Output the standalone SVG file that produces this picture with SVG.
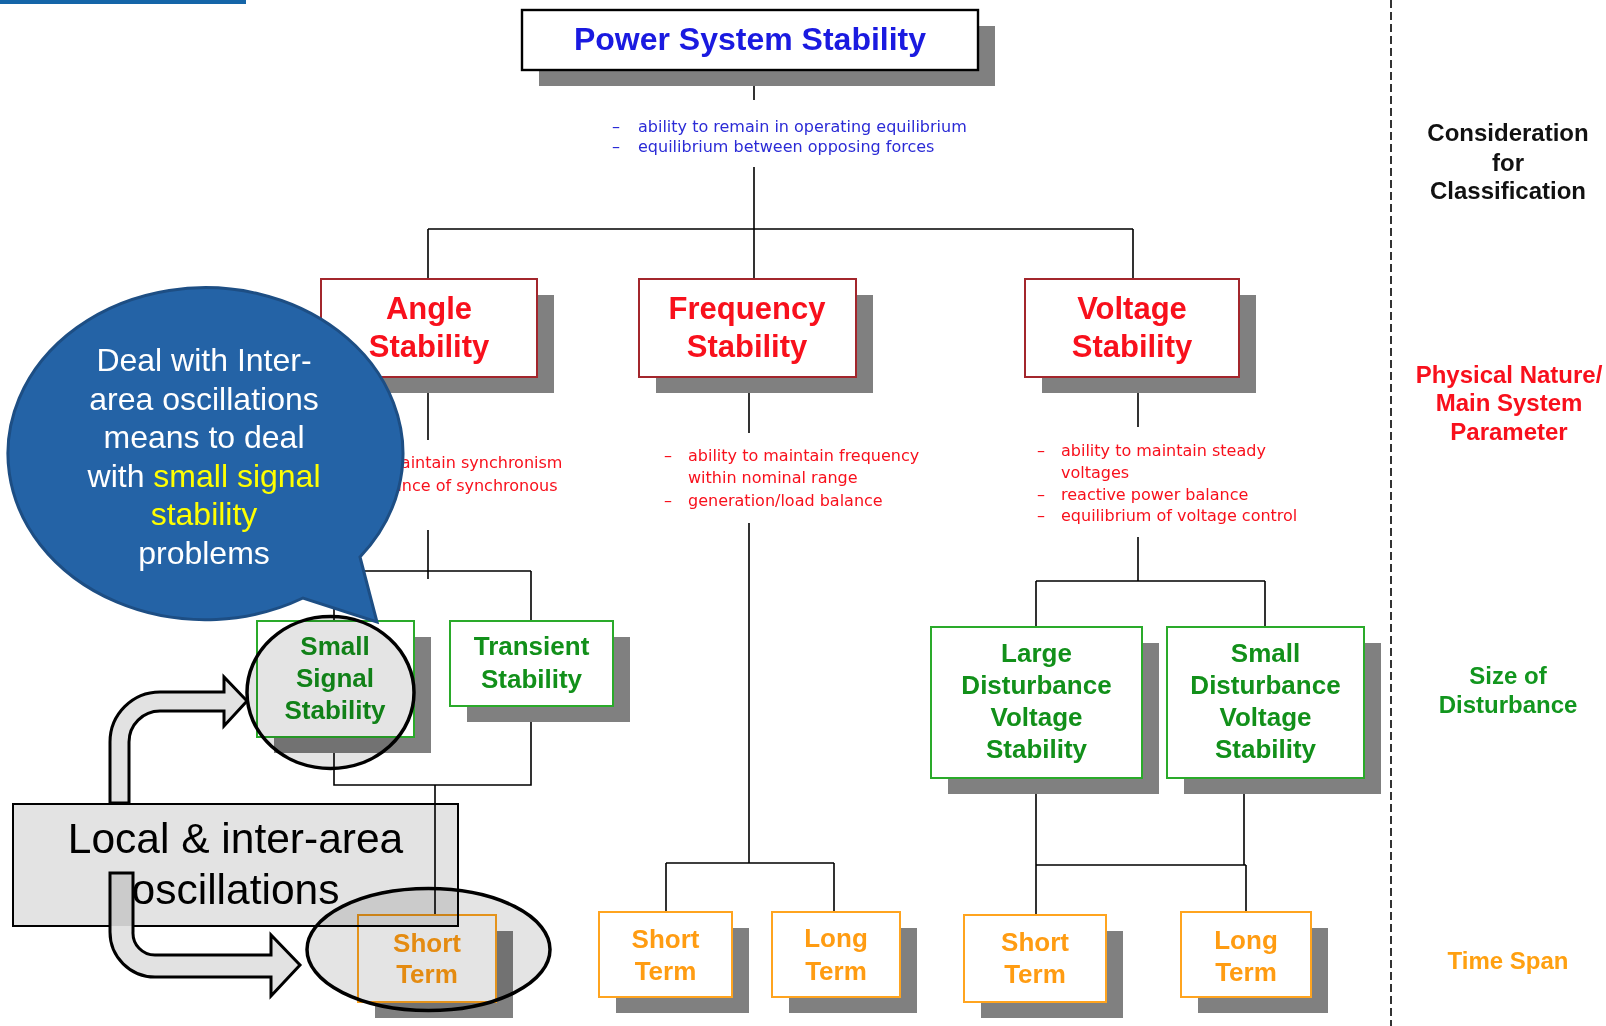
<svg xmlns="http://www.w3.org/2000/svg" width="1606" height="1026" viewBox="0 0 1606 1026">
<style>
.sh{fill:#808080}
.bx{fill:#fff;stroke-width:2}
.k{stroke:#000;stroke-width:2.4}
.r{stroke:#a3262c}
.g{stroke:#2aaa2a}
.o{stroke:#ffa41f}
.t{font-family:"Liberation Sans",Arial,sans-serif;font-weight:bold;text-anchor:middle}
.s{font-family:"DejaVu Sans",Verdana,sans-serif;font-size:16px}
.red{fill:#f8101c}
.grn{fill:#12901a}
.org{fill:#ff9c12}
.ln{stroke:#000;stroke-width:1.6;fill:none}
.hl{fill:#e4e4e4;mix-blend-mode:multiply;stroke:#000;stroke-width:3.5}
.ar{fill:#e2e2e2;stroke:none}
.ao{fill:none;stroke:#000;stroke-width:3}
</style>
<defs>
  <clipPath id="in-note"><rect x="13" y="804" width="445" height="122"/></clipPath>
  <path id="arrow-up" d="M110,803 L110,742 A50,50 0 0 1 160,692 L224,692 L224,677 L247,701 L224,726 L224,711 L160,711 A31,31 0 0 0 129,742 L129,803 Z"/>
  <path id="arrow-down" d="M110,873 L133,873 L133,932 A22,22 0 0 0 155,955 L271,955 L271,935 L300,965 L271,996 L271,977 L155,977 A45,45 0 0 1 110,932 Z"/>
</defs>

<!-- header strip -->
<rect x="0" y="0" width="246" height="4" fill="#1565a8"/>

<!-- tree connectors -->
<g id="connectors" class="ln">
  <path d="M754,70 V100 M754,167 V279 M428,229 H1133 M428,229 V279 M1133,229 V279"/>
  <path d="M428,377 V440 M428,530 V579 M334,571 H531 M334,571 V621 M531,571 V621"/>
  <path d="M334,737 V785 H531 V706 M435,785 V915"/>
  <path d="M749,377 V433 M749,523 V863 M666,863 H834 M666,863 V912 M834,863 V912"/>
  <path d="M1138,377 V427 M1138,537 V581 M1036,581 H1265 M1036,581 V627 M1265,581 V627"/>
  <path d="M1036,778 V915 M1244,778 V865 M1036,865 H1246 M1246,865 V912"/>
</g>

<!-- category column separator -->
<line x1="1391" y1="0" x2="1391" y2="1026" stroke="#333" stroke-width="2" stroke-dasharray="8,4"/>

<g id="power-system-stability">
  <rect class="sh" x="539" y="26" width="456" height="60"/>
  <rect class="bx k" x="522" y="10" width="456" height="60"/>
  <text class="t" x="750" y="50" font-size="32" fill="#1a1ae0">Power System Stability</text>
</g>
<g id="pss-notes" class="s" fill="#2b2bd6">
  <text x="612" y="132">–</text><text x="638" y="132">ability to remain in operating equilibrium</text>
  <text x="612" y="152">–</text><text x="638" y="152">equilibrium between opposing forces</text>
</g>

<g id="angle-stability">
  <rect class="sh" x="338" y="295" width="216" height="98"/>
  <rect class="bx r" x="321" y="279" width="216" height="98"/>
  <text class="t red" x="429" y="319" font-size="31">Angle</text>
  <text class="t red" x="429" y="357" font-size="31">Stability</text>
</g>
<g id="angle-notes" class="s red">
  <text x="310" y="468">ability to maintain synchronism</text>
  <text x="310" y="491">torque balance of synchronous</text>
  <text x="310" y="513">machines</text>
</g>

<g id="frequency-stability">
  <rect class="sh" x="656" y="295" width="217" height="98"/>
  <rect class="bx r" x="639" y="279" width="217" height="98"/>
  <text class="t red" x="747" y="319" font-size="31">Frequency</text>
  <text class="t red" x="747" y="357" font-size="31">Stability</text>
</g>
<g id="frequency-notes" class="s red">
  <text x="664" y="461">–</text><text x="688" y="461">ability to maintain frequency</text>
  <text x="688" y="483">within nominal range</text>
  <text x="664" y="506">–</text><text x="688" y="506">generation/load balance</text>
</g>

<g id="voltage-stability">
  <rect class="sh" x="1042" y="295" width="214" height="98"/>
  <rect class="bx r" x="1025" y="279" width="214" height="98"/>
  <text class="t red" x="1132" y="319" font-size="31">Voltage</text>
  <text class="t red" x="1132" y="357" font-size="31">Stability</text>
</g>
<g id="voltage-notes" class="s red">
  <text x="1037" y="456">–</text><text x="1061" y="456">ability to maintain steady</text>
  <text x="1061" y="478">voltages</text>
  <text x="1037" y="500">–</text><text x="1061" y="500">reactive power balance</text>
  <text x="1037" y="521">–</text><text x="1061" y="521">equilibrium of voltage control</text>
</g>

<g id="small-signal-stability">
  <rect class="sh" x="274" y="637" width="157" height="116"/>
  <rect class="bx g" x="257" y="621" width="157" height="116"/>
  <text class="t grn" x="335" y="655" font-size="26">Small</text>
  <text class="t grn" x="335" y="687" font-size="26">Signal</text>
  <text class="t grn" x="335" y="719" font-size="26">Stability</text>
</g>

<g id="transient-stability">
  <rect class="sh" x="467" y="637" width="163" height="85"/>
  <rect class="bx g" x="450" y="621" width="163" height="85"/>
  <text class="t grn" x="531.5" y="655" font-size="26">Transient</text>
  <text class="t grn" x="531.5" y="688" font-size="26">Stability</text>
</g>

<g id="large-disturbance-voltage-stability">
  <rect class="sh" x="948" y="643" width="211" height="151"/>
  <rect class="bx g" x="931" y="627" width="211" height="151"/>
  <text class="t grn" x="1036.5" y="662" font-size="26">Large</text>
  <text class="t grn" x="1036.5" y="694" font-size="26">Disturbance</text>
  <text class="t grn" x="1036.5" y="726" font-size="26">Voltage</text>
  <text class="t grn" x="1036.5" y="758" font-size="26">Stability</text>
</g>

<g id="small-disturbance-voltage-stability">
  <rect class="sh" x="1184" y="643" width="197" height="151"/>
  <rect class="bx g" x="1167" y="627" width="197" height="151"/>
  <text class="t grn" x="1265.5" y="662" font-size="26">Small</text>
  <text class="t grn" x="1265.5" y="694" font-size="26">Disturbance</text>
  <text class="t grn" x="1265.5" y="726" font-size="26">Voltage</text>
  <text class="t grn" x="1265.5" y="758" font-size="26">Stability</text>
</g>

<g id="angle-short-term">
  <rect class="sh" x="375" y="931" width="138" height="87"/>
  <rect class="bx o" x="358" y="915" width="138" height="87"/>
  <text class="t org" x="427" y="952" font-size="26">Short</text>
  <text class="t org" x="427" y="983" font-size="26">Term</text>
</g>

<g id="frequency-short-term">
  <rect class="sh" x="616" y="928" width="133" height="85"/>
  <rect class="bx o" x="599" y="912" width="133" height="85"/>
  <text class="t org" x="665.5" y="948" font-size="26">Short</text>
  <text class="t org" x="665.5" y="980" font-size="26">Term</text>
</g>

<g id="frequency-long-term">
  <rect class="sh" x="789" y="928" width="128" height="85"/>
  <rect class="bx o" x="772" y="912" width="128" height="85"/>
  <text class="t org" x="836" y="947" font-size="26">Long</text>
  <text class="t org" x="836" y="980" font-size="26">Term</text>
</g>

<g id="voltage-short-term">
  <rect class="sh" x="981" y="931" width="142" height="87"/>
  <rect class="bx o" x="964" y="915" width="142" height="87"/>
  <text class="t org" x="1035" y="951" font-size="26">Short</text>
  <text class="t org" x="1035" y="983" font-size="26">Term</text>
</g>

<g id="voltage-long-term">
  <rect class="sh" x="1198" y="928" width="130" height="85"/>
  <rect class="bx o" x="1181" y="912" width="130" height="85"/>
  <text class="t org" x="1246" y="949" font-size="26">Long</text>
  <text class="t org" x="1246" y="981" font-size="26">Term</text>
</g>

<!-- classification legend -->
<g id="legend" class="t" font-size="24">
  <text x="1508" y="141" fill="#111">Consideration</text>
  <text x="1508" y="171" fill="#111">for</text>
  <text x="1508" y="199" fill="#111">Classification</text>
  <text x="1509" y="383" fill="#f8101c">Physical Nature/</text>
  <text x="1509" y="411" fill="#f8101c">Main System</text>
  <text x="1509" y="440" fill="#f8101c">Parameter</text>
  <text x="1508" y="684" fill="#12961e">Size of</text>
  <text x="1508" y="713" fill="#12961e">Disturbance</text>
  <text x="1508" y="969" fill="#ffa010">Time Span</text>
</g>

<!-- annotation: oscillation box, pointer arrows and highlights -->
<g id="oscillations-note">
  <rect x="13" y="804" width="445" height="122" fill="#e3e3e3" style="mix-blend-mode:multiply" stroke="#000" stroke-width="2"/>
  <text x="235.5" y="853" font-family="'Liberation Sans',Arial,sans-serif" font-size="42.5" text-anchor="middle" fill="#000">Local &amp; inter-area</text>
  <text x="235.5" y="904" font-family="'Liberation Sans',Arial,sans-serif" font-size="42.5" text-anchor="middle" fill="#000">oscillations</text>
</g>
<g id="pointer-arrows">
  <use href="#arrow-up" class="ar"/>
  <use href="#arrow-down" class="ar"/>
  <use href="#arrow-down" fill="#cbcbcb" clip-path="url(#in-note)"/>
  <use href="#arrow-up" class="ao"/>
  <use href="#arrow-down" class="ao"/>
</g>
<g id="highlights">
  <ellipse class="hl" cx="330.5" cy="692.5" rx="83.5" ry="76"/>
  <ellipse class="hl" cx="428.5" cy="949.5" rx="121.5" ry="61"/>
</g>

<!-- speech bubble -->
<g id="callout">
  <path d="M360,557 L377,622 L303,598 A197.5,166 0 1 1 360,557 Z" fill="#2463a6" stroke="#1d4e84" stroke-width="3"/>
  <g font-family="'Liberation Sans',Arial,sans-serif" font-size="32" text-anchor="middle" fill="#fff">
    <text x="204" y="371">Deal with Inter-</text>
    <text x="204" y="410">area oscillations</text>
    <text x="204" y="448">means to deal</text>
    <text x="204" y="487">with <tspan fill="#ffff00">small signal</tspan></text>
    <text x="204" y="525" fill="#ffff00">stability</text>
    <text x="204" y="564">problems</text>
  </g>
</g>
</svg>
